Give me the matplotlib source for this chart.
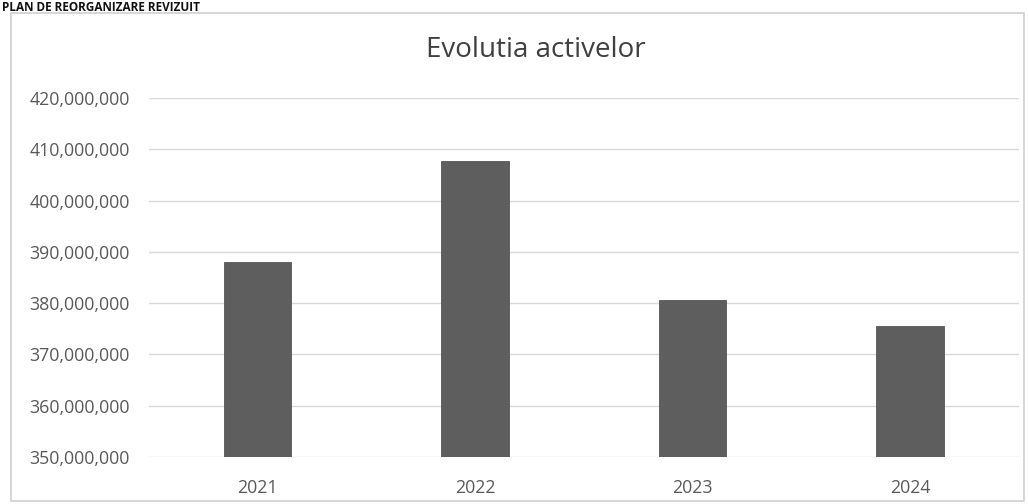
import matplotlib
matplotlib.use("Agg")
import matplotlib.pyplot as plt
from matplotlib.patches import Rectangle
from matplotlib.ticker import FuncFormatter

years = ["2021", "2022", "2023", "2024"]
assets = [388000000, 407700000, 380600000, 375500000]
yticks = [350000000, 360000000, 370000000, 380000000, 390000000,
          400000000, 410000000, 420000000]

plt.rcParams['font.family'] = ['Open Sans', 'DejaVu Sans']

fig = plt.figure(figsize=(10.28, 5.04), dpi=100)
ax = fig.add_axes([0.145, 0.0933, 0.846, 0.7123])

x = list(range(len(years)))
ax.bar(x, [v - yticks[0] for v in assets], bottom=yticks[0], width=0.31,
       color="#5e5e5e", edgecolor="#555555", linewidth=0.6, zorder=3)

ax.set_xlim(-0.5, len(years) - 0.5)
ax.set_ylim(yticks[0], yticks[-1])
ax.set_yticks(yticks)
ax.yaxis.set_major_formatter(FuncFormatter(lambda v, p: f"{int(v):,}"))
ax.set_xticks(x)
ax.set_xticklabels(years)
ax.grid(axis="y", color="#d9d9d9", linewidth=1.0, zorder=0)
for s in ax.spines.values():
    s.set_visible(False)
ax.tick_params(axis="both", length=0, colors="#595959", labelsize=12.8)
ax.tick_params(axis="y", pad=14)
ax.tick_params(axis="x", pad=16)

fig.text(0.5215, 0.90, "Evolutia activelor", ha="center", va="center",
         fontsize=20, color="#404040")

# chart border
fig.patches.append(Rectangle((0.011, 0.006), 0.985, 0.968, transform=fig.transFigure,
                             fill=False, edgecolor="#d0d0d0", linewidth=1.2))
# heading at the top edge
fig.text(0.002, 0.999, "PLAN DE REORGANIZARE REVIZUIT", ha="left", va="top",
         fontsize=8.5, fontweight="bold", color="#111111")

fig.savefig("out.png", dpi=100, facecolor="white")
